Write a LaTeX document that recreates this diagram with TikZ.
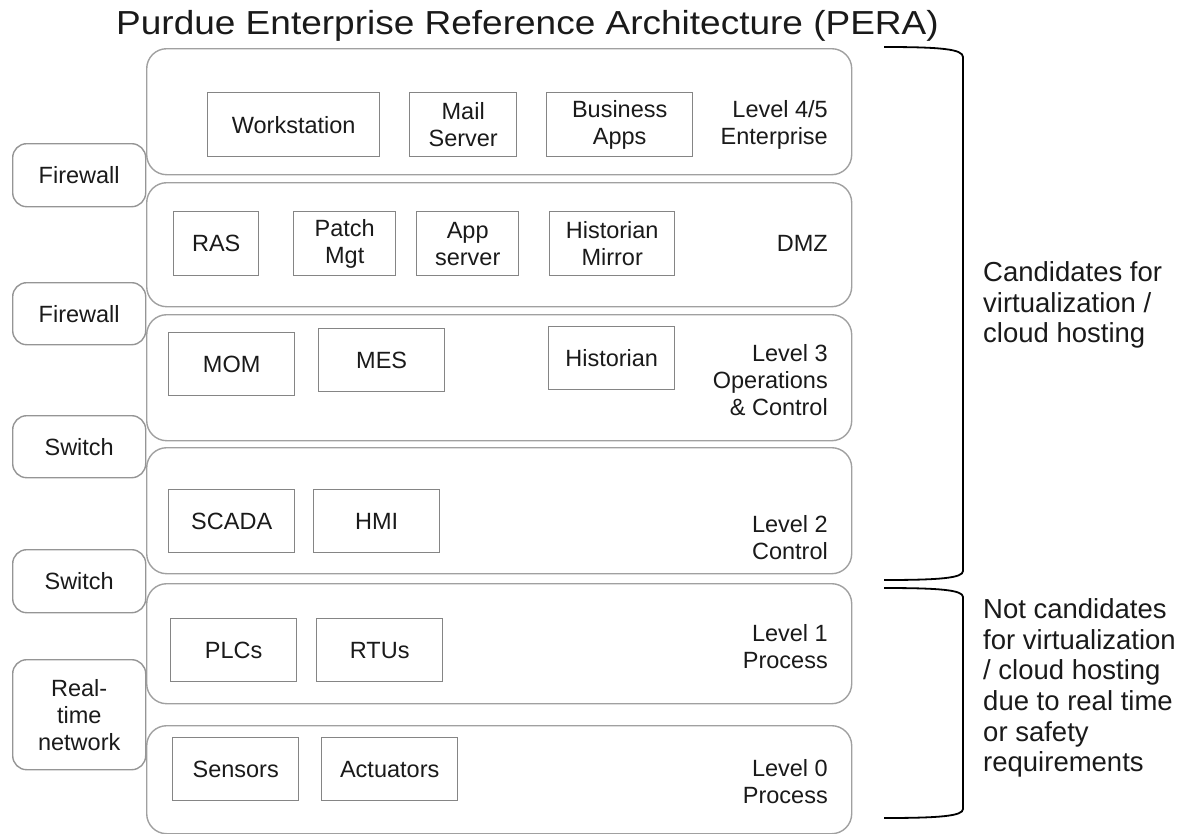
\documentclass[tikz,border=0pt]{standalone}
\usepackage{fontspec}
\setmainfont{Liberation Sans}
\definecolor{txt}{HTML}{1A1A1A}
\definecolor{layerc}{HTML}{A0A0A0}
\definecolor{boxc}{HTML}{858585}
\definecolor{sidec}{HTML}{959595}
\begin{document}
\begin{tikzpicture}[x=1pt,y=-1pt,
  every node/.style={text=txt, inner sep=0pt},
  bodyfont/.style={font=\fontsize{23.5}{27}\selectfont},
  layer/.style={draw=layerc, line width=1.4pt, rounded corners=20pt, anchor=north west},
  sidebox/.style={draw=sidec, line width=1.4pt, rounded corners=14pt, anchor=north west, bodyfont, align=center},
  item/.style={draw=boxc, line width=1.4pt, anchor=north west, bodyfont, align=center},
  lvl/.style={anchor=east, bodyfont, align=right},
  note/.style={anchor=west, align=left, font=\fontsize{27.5}{30.6}\selectfont},
  brk/.style={draw=black, line width=1.8pt}
]
\useasboundingbox (0,0) rectangle (1185,833);

% title
\node[anchor=base, font=\fontsize{37}{40}\selectfont] (title) at (527.5,34) {\scalebox{1}[0.9]{Purdue Enterprise Reference Architecture (PERA)}};

% layers
\node[layer, minimum width=705pt, minimum height=126pt] (l45) at (146,48) {};
\node[layer, minimum width=705pt, minimum height=124pt] (dmz) at (146,182) {};
\node[layer, minimum width=705pt, minimum height=126pt] (l3) at (146,314) {};
\node[layer, minimum width=705pt, minimum height=126pt] (l2) at (146,447) {};
\node[layer, minimum width=705pt, minimum height=120pt] (l1) at (146,583) {};
\node[layer, minimum width=705pt, minimum height=108pt] (l0) at (146,725) {};

% layer labels
\node[lvl] (t45) at (828,125) {Level 4/5\\Enterprise};
\node[lvl] (tdmz) at (828,243) {DMZ};
\node[lvl] (t3) at (828,380.5) {Level 3\\Operations\\\& Control};
\node[lvl] (t2) at (828,537.5) {Level 2\\Control};
\node[lvl] (t1) at (828,646.5) {Level 1\\Process};
\node[lvl] (t0) at (828,782) {Level 0\\Process};

% side boxes
\node[sidebox, minimum width=133pt, minimum height=63pt] (fw1) at (12,143) {Firewall};
\node[sidebox, minimum width=133pt, minimum height=62pt] (fw2) at (12,282) {Firewall};
\node[sidebox, minimum width=133pt, minimum height=62pt] (sw1) at (12,415) {Switch};
\node[sidebox, minimum width=133pt, minimum height=63pt] (sw2) at (12,549) {Switch};
\node[sidebox, minimum width=133pt, minimum height=110pt] (rt) at (12,659) {Real-\\time\\network};

% level 4/5 items
\node[item, minimum width=172pt, minimum height=64pt] (ws) at (207,92) {Workstation};
\node[item, minimum width=107pt, minimum height=64pt] (mail) at (409,92) {Mail\\Server};
\node[item, minimum width=146pt, minimum height=64pt] (biz) at (546,92) {Business\\Apps};

% DMZ items
\node[item, minimum width=85pt, minimum height=64pt] (ras) at (173,211) {RAS};
\node[item, minimum width=102pt, minimum height=64pt] (patch) at (293,211) {Patch\\Mgt};
\node[item, minimum width=102pt, minimum height=64pt] (app) at (416,211) {App\\server};
\node[item, minimum width=125pt, minimum height=64pt] (hmir) at (549,211) {Historian\\Mirror};

% level 3 items
\node[item, minimum width=126pt, minimum height=63pt] (mom) at (168,332) {MOM};
\node[item, minimum width=126pt, minimum height=63pt] (mes) at (318,328) {MES};
\node[item, minimum width=126pt, minimum height=63pt] (hist) at (548,326) {Historian};

% level 2 items
\node[item, minimum width=126pt, minimum height=63pt] (scada) at (168,489) {SCADA};
\node[item, minimum width=126pt, minimum height=63pt] (hmi) at (313,489) {HMI};

% level 1 items
\node[item, minimum width=126pt, minimum height=63pt] (plc) at (170,618) {PLCs};
\node[item, minimum width=126pt, minimum height=63pt] (rtu) at (316,618) {RTUs};

% level 0 items
\node[item, minimum width=126pt, minimum height=63pt] (sens) at (172,737) {Sensors};
\node[item, minimum width=136pt, minimum height=63pt] (act) at (321,737) {Actuators};

% brackets
\coordinate (b1t) at (884,47);
\coordinate (b1b) at (884,580);
\coordinate (b2t) at (884,588);
\coordinate (b2b) at (884,818);
\draw[brk] (b1t) .. controls (940,47) and (963,49) .. (963,57) -- (963,571) .. controls (963,578) and (940,580) .. (b1b);
\draw[brk] (b2t) .. controls (940,588) and (963,590) .. (963,597) -- (963,809) .. controls (963,816) and (940,818) .. (b2b);

% notes
\node[note] (n1) at (983,305) {Candidates for\\virtualization /\\cloud hosting};
\node[note] (n2) at (983,688) {Not candidates\\for virtualization\\/ cloud hosting\\due to real time\\or safety\\requirements};
\end{tikzpicture}
\end{document}
